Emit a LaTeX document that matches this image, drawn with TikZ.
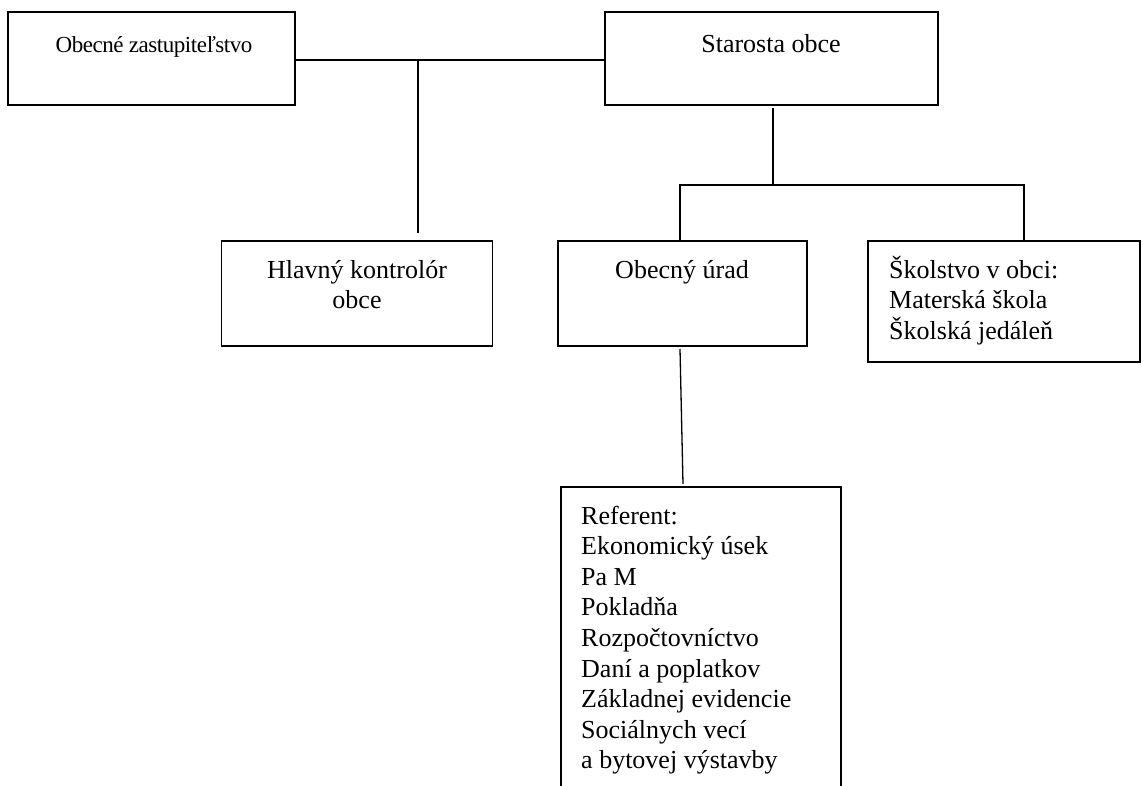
\documentclass[tikz,border=0pt]{standalone}
\usepackage{fontspec}
\setmainfont{Liberation Serif}
\newfontfamily\condfont[LetterSpace=-2]{Liberation Serif}
\begin{document}
\begin{tikzpicture}[x=1pt,y=-1pt,
  box/.style={draw,line width=1.3pt,inner sep=0pt,rectangle},
  conn/.style={line width=1.3pt},
  txt/.style={font=\fontsize{26}{30.6}\selectfont,inner sep=0pt}]
\useasboundingbox (0,0) rectangle (1142,785);
% boxes
\node[box,minimum width=287pt,minimum height=93pt] (zast) at (151.5,58.5) {};
\node[box,minimum width=333pt,minimum height=93pt] (star) at (771.5,58.5) {};
\node[box,minimum width=271pt,minimum height=105pt] (kont) at (357,293.5) {};
\node[box,minimum width=249pt,minimum height=105pt] (urad) at (682.5,293.5) {};
\node[box,minimum width=272pt,minimum height=121pt] (skol) at (1004,301.5) {};
% open bottom box
\coordinate (refTL) at (561,487);
\coordinate (refTR) at (841,487);
\draw[conn] (561,786) -- (refTL) -- (refTR) -- (841,786);
% texts (multi-line nodes: base = baseline of last line)
\node[txt,font=\condfont\fontsize{23}{27}\selectfont,anchor=base] (tzast) at (154,52) {Obecné zastupiteľstvo};
\node[txt,anchor=base] (tstar) at (771,52) {Starosta obce};
\node[txt,anchor=base,align=center] (tkont) at (357,308.6) {Hlavný kontrolór\\obce};
\node[txt,anchor=base] (turad) at (682,278) {Obecný úrad};
\node[txt,anchor=base west,align=left] (tskol) at (889,339.2) {Školstvo v obci:\\Materská škola\\Školská jedáleň};
\node[txt,anchor=base west,align=left] (tref) at (581,768.8) {Referent:\\Ekonomický úsek\\Pa M\\Pokladňa\\Rozpočtovníctvo\\Daní a poplatkov\\Základnej evidencie\\Sociálnych vecí\\a bytovej výstavby};
% connectors
\coordinate (j1) at (418,60);
\coordinate (j1e) at (418,233);
\draw[conn] (zast.east |- j1) -- (star.west |- j1);
\draw[conn] (j1) -- (j1e);
\coordinate (s1) at (773,108);
\coordinate (s2) at (773,185);
\draw[conn] (s1) -- (s2);
\coordinate (b1) at (680,240);
\coordinate (b2) at (1024,240);
\draw[conn] (b1) -- (b1 |- s2) -- (b2 |- s2) -- (b2);
\coordinate (u1) at (680,349);
\coordinate (u2) at (683,484);
\draw[conn] (u1) -- (u2);
\end{tikzpicture}
\end{document}
